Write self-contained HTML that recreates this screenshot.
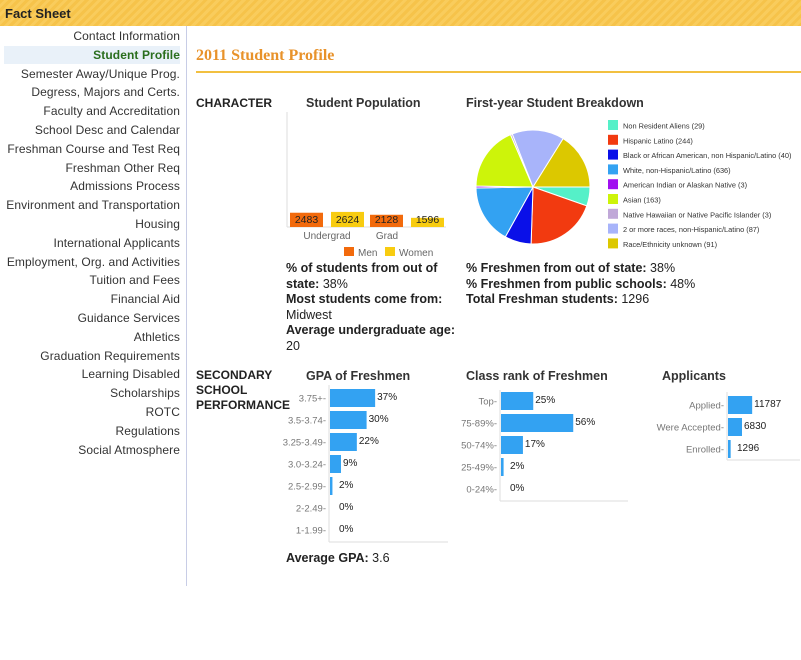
<!DOCTYPE html>
<html><head><meta charset="utf-8"><style>
body{margin:0;width:801px;height:660px;background:#fff;font-family:"Liberation Sans",sans-serif;position:relative;overflow:hidden}
#hdr{position:absolute;left:0;top:0;width:801px;height:26px;background:repeating-linear-gradient(135deg,#f6c34a 0 3px,#f9cc5c 3px 6px)}
#hdr span{position:absolute;left:5px;top:6px;font-weight:bold;font-size:13px;color:#222}
#side{position:absolute;left:0;top:26px;width:186px;height:560px;border-right:1px solid #c8cde6}
.it{position:absolute;right:6px;font-size:12px;color:#333;white-space:nowrap;letter-spacing:0.1px}
.sel{left:4px;text-align:right;background:#e9f1f9;color:#2a6e1e;font-weight:bold;padding-right:0}
.t{position:absolute;font-size:12.5px;color:#222;white-space:nowrap}
.b{font-weight:bold}
svg text{font-family:"Liberation Sans",sans-serif}
</style></head><body>
<div id="hdr"><span>Fact Sheet</span></div>
<div id="side"></div>
<div class="t" style="left:196px;top:47px;font-family:'Liberation Serif',serif;font-weight:bold;font-size:16px;color:#e8922a">2011 Student Profile</div>
<div style="position:absolute;left:196px;top:71px;width:605px;height:2px;background:#f2c040"></div>
<div class="t b" style="left:196px;top:96px;font-size:12px">CHARACTER</div>
<div class="t b" style="left:196px;top:368px;font-size:12px;line-height:15px">SECONDARY<br>SCHOOL<br>PERFORMANCE</div>
<div class="t" style="left:286px;top:261px;line-height:15.6px;white-space:normal;width:180px"><b>% of students from out of state:</b> 38%<br><b>Most students come from:</b><br>Midwest<br><b>Average undergraduate age:</b><br>20</div>
<div class="t" style="left:466px;top:261px;line-height:15.6px"><b>% Freshmen from out of state:</b> 38%<br><b>% Freshmen from public schools:</b> 48%<br><b>Total Freshman students:</b> 1296</div>
<div class="t" style="left:286px;top:551px"><b>Average GPA:</b> 3.6</div>
<svg id="cv" width="801" height="660" style="position:absolute;left:0;top:0" xmlns="http://www.w3.org/2000/svg"></svg>
<script>
const navItems=["Contact Information","Student Profile","Semester Away/Unique Prog.","Degress, Majors and Certs.","Faculty and Accreditation","School Desc and Calendar","Freshman Course and Test Req","Freshman Other Req","Admissions Process","Environment and Transportation","Housing","International Applicants","Employment, Org. and Activities","Tuition and Fees","Financial Aid","Guidance Services","Athletics","Graduation Requirements","Learning Disabled","Scholarships","ROTC","Regulations","Social Atmosphere"];
const popGroups=["Undergrad","Grad"];
const popMen=[2483,2128];
const popWomen=[2624,1596];
const pieLabels=["Non Resident Aliens (29)","Hispanic Latino (244)","Black or African American, non Hispanic/Latino (40)","White, non-Hispanic/Latino (636)","American Indian or Alaskan Native (3)","Asian (163)","Native Hawaiian or Native Pacific Islander (3)","2 or more races, non-Hispanic/Latino (87)","Race/Ethnicity unknown (91)"];
const pieShares=[20,75,28,62,2,68,2,55,60];
const pieColors=["#55f0c8","#f23a10","#0a10e8","#33a2f2","#a010f0","#cdf40a","#c0a8d8","#a8b4fa","#dcc800"];
const gpaCats=["3.75+","3.5-3.74","3.25-3.49","3.0-3.24","2.5-2.99","2-2.49","1-1.99"];
const gpaVals=[37,30,22,9,2,0,0];
const rankCats=["Top","75-89%","50-74%","25-49%","0-24%"];
const rankVals=[25,56,17,2,0];
const appCats=["Applied","Were Accepted","Enrolled"];
const appVals=[11787,6830,1296];

const side=document.getElementById('side');
navItems.forEach((n,i)=>{const d=document.createElement('div');d.className='it'+(i==1?' sel':'');


d.textContent=n;d.style.top=(3+i*18.8)+'px';if(i==1){d.style.height='18px';d.style.lineHeight='18px';d.style.top='20px';}side.appendChild(d);});

const S=document.getElementById('cv');const NS='http://www.w3.org/2000/svg';
function el(tag,a,txt){const e=document.createElementNS(NS,tag);for(const k in a)e.setAttribute(k,a[k]);if(txt!=null)e.textContent=txt;S.appendChild(e);return e;}
function title(x,y,t,nm){const e=el('text',{x:x,y:y,'font-size':12.5,'font-weight':'bold',fill:'#333'},t);

}

// Student population
title(306,107,'Student Population','population-title');
const pBase=227,pH=115,pMax=20000;const py=v=>pBase-v/pMax*pH;
let a=el('line',{x1:287,y1:112,x2:287,y2:pBase,stroke:'#ddd'});
a=el('line',{x1:287,y1:pBase,x2:446,y2:pBase,stroke:'#ddd'});
popGroups.forEach((g,i)=>{const gx=290+i*80;
[[popMen[i],'#f26a0c',gx],[popWomen[i],'#f8cc10',gx+41]].forEach(([v,c,x],j)=>{
const r=el('rect',{x:x,y:py(v),width:33,height:pBase-py(v),fill:c});


el('text',{x:x+16.5,y:pBase-4,'font-size':10.5,'text-anchor':'middle',fill:'#222'},v);});
const t=el('text',{x:gx+37+(i?-20:0),y:239,'font-size':10,'text-anchor':'middle',fill:'#666'},g);

});
[['Men','#f26a0c',344],['Women','#f8cc10',385]].forEach(([n,c,x])=>{const r=el('rect',{x:x,y:247,width:10,height:9,fill:c});


el('text',{x:x+14,y:256,'font-size':10,fill:'#666'},n);});

// Pie
title(466,107,'First-year Student Breakdown','pie-title');
const cx=533,cy=187,R=57;const tot=pieShares.reduce((s,v)=>s+v,0);let ang=0;
pieShares.forEach((v,i)=>{const a2=ang+v/tot*2*Math.PI;const large=(a2-ang)>Math.PI?1:0;
const p=el('path',{d:`M${cx},${cy}L${cx+R*Math.cos(ang)},${cy+R*Math.sin(ang)}A${R},${R} 0 ${large} 1 ${cx+R*Math.cos(a2)},${cy+R*Math.sin(a2)}Z`,fill:pieColors[i],stroke:'#fff','stroke-width':1});


ang=a2;});
pieLabels.forEach((l,i)=>{const y=120+i*14.8;const r=el('rect',{x:608,y:y,width:10,height:10,fill:pieColors[i]});


el('text',{x:623,y:y+8.5,'font-size':7.4,fill:'#333'},l);});

// horizontal bar charts
function hbar(nm,cats,vals,ax,y0,step,pxPer,bottom,xEnd,top,fmt){
let l=el('line',{x1:ax,y1:top,x2:ax,y2:bottom,stroke:'#ddd'});
l=el('line',{x1:ax,y1:bottom,x2:xEnd,y2:bottom,stroke:'#ddd'});
cats.forEach((c,i)=>{const y=y0+i*step;const w=vals[i]*pxPer;
el('text',{x:ax-3,y:y+3.5,'font-size':9.5,'text-anchor':'end',fill:'#777'},c+'-');
if(w>0){const r=el('rect',{x:ax+1,y:y-9,width:w,height:18,fill:'#33a2f2'});

}
el('text',{x:ax+Math.max(w,3)+3+(w<4?4:0),y:y+2,'font-size':10,fill:'#222'},fmt(vals[i]));});}
title(306,380,'GPA of Freshmen','gpa-title');
hbar('gpa',gpaCats,gpaVals,329,398,22,1.22,542,448,385,v=>v+'%');
title(466,380,'Class rank of Freshmen','rank-title');
hbar('rank',rankCats,rankVals,500,401,22,1.29,501,628,390,v=>v+'%');
title(662,380,'Applicants','applicants-title');
hbar('applicants',appCats,appVals,727,405,22,0.00205,460,800,392,v=>v);
</script>
</body></html>
